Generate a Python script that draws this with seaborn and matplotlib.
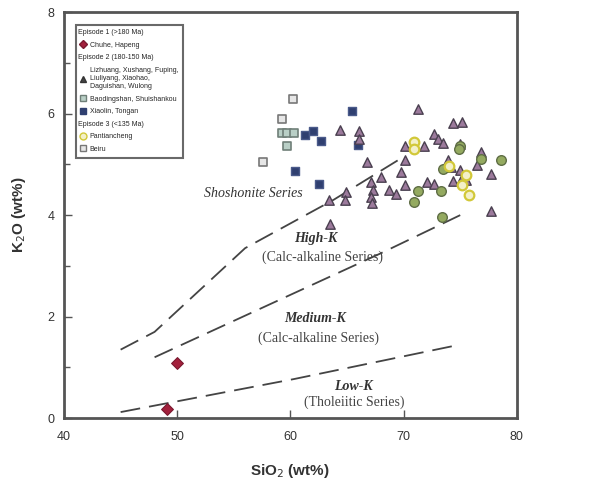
import numpy as np
import pandas as pd
import matplotlib
matplotlib.use("Agg")
import matplotlib.pyplot as plt
from matplotlib.lines import Line2D
from matplotlib.ticker import MultipleLocator
import seaborn as sns

sns.set_style("ticks")
plt.rcParams['font.family'] = ['Liberation Sans', 'DejaVu Sans']

# Episode 1 (>180 Ma)
ep1_sio2 = [50.0, 49.1]
ep1_k2o = [1.08, 0.18]

# Episode 2 triangles
tri_sio2 = [71.3, 74.4, 75.2, 64.4, 66.1, 66.1, 66.8, 70.1, 71.8, 72.7, 73.0, 73.5,
            70.1, 69.8, 70.1, 68.0, 67.1, 67.3, 67.1, 67.2, 64.9, 64.8, 63.4, 63.5,
            68.7, 69.3, 72.1, 72.7, 73.9, 74.4, 75.0, 75.2, 75.5, 76.5, 76.8, 77.7,
            77.7, 75.0, 74.2]
tri_k2o = [6.10, 5.81, 5.83, 5.67, 5.65, 5.50, 5.05, 5.37, 5.36, 5.59, 5.50, 5.42,
           5.09, 4.85, 4.59, 4.75, 4.66, 4.50, 4.36, 4.23, 4.46, 4.29, 4.29, 3.83,
           4.49, 4.42, 4.66, 4.62, 5.08, 4.68, 4.88, 4.74, 4.70, 4.98, 5.24, 4.82,
           4.09, 5.41, 4.95]

# Episode 2 squares
grey_sq_sio2 = [59.3, 59.7, 60.3, 59.7]
grey_sq_k2o = [5.61, 5.61, 5.61, 5.37]
dark_sq_sio2 = [65.4, 61.3, 62.0, 62.7, 60.4, 62.5, 66.0]
dark_sq_k2o = [6.06, 5.57, 5.66, 5.47, 4.87, 4.62, 5.39]

# Episode 3
green_sio2 = [70.9, 71.3, 73.3, 73.4, 75.0, 76.8, 78.6, 73.9, 73.5, 74.9]
green_k2o = [4.26, 4.47, 4.47, 3.96, 5.37, 5.11, 5.09, 4.95, 4.90, 5.30]
yellow_sio2 = [70.9, 70.9, 74.0, 75.2, 75.8, 75.5]
yellow_k2o = [5.44, 5.30, 4.96, 4.59, 4.39, 4.80]
open_sq_sio2 = [60.2, 59.3, 57.6]
open_sq_k2o = [6.28, 5.89, 5.04]

# series boundaries
shosh_x = [45.0, 48.0, 56.0, 63.8, 70.0]
shosh_y = [1.35, 1.70, 3.35, 4.30, 5.15]
highk_x = [48.0, 68.0, 75.0]
highk_y = [1.20, 3.25, 4.00]
lowk_x = [45.0, 60.3, 75.0]
lowk_y = [0.12, 0.77, 1.45]

fig = plt.figure(figsize=(5.95, 4.84), dpi=100)
ax = fig.add_axes([0.1076, 0.136, 0.761, 0.839])

for bx, by in [(shosh_x, shosh_y), (highk_x, highk_y), (lowk_x, lowk_y)]:
    ax.plot(bx, by, color='#444444', lw=1.3, dashes=(11, 5), zorder=1)

sty = dict(ax=ax, legend=False, zorder=3)
sns.scatterplot(x=ep1_sio2, y=ep1_k2o, marker='D', s=36, color='#a3203c',
                edgecolor='#7a1a30', linewidth=0.8, **sty)
sns.scatterplot(x=open_sq_sio2, y=open_sq_k2o, marker='s', s=40, color='#e6e6e6',
                edgecolor='#777777', linewidth=1.2, **sty)
sns.scatterplot(x=grey_sq_sio2, y=grey_sq_k2o, marker='s', s=40, color='#b9cfc6',
                edgecolor='#6f7f78', linewidth=1.2, **sty)
sns.scatterplot(x=dark_sq_sio2, y=dark_sq_k2o, marker='s', s=40, color='#2f3f70',
                edgecolor='#4a5a8a', linewidth=1.0, **sty)
sns.scatterplot(x=tri_sio2, y=tri_k2o, marker='^', s=46, color='#9c7a9c',
                edgecolor='#4a4050', linewidth=1.0, **sty)
sns.scatterplot(x=green_sio2, y=green_k2o, marker='o', s=48, color='#94aa60',
                edgecolor='#5f6e45', linewidth=1.0, **sty)
sns.scatterplot(x=yellow_sio2, y=yellow_k2o, marker='o', s=48, color='#f3f0c8',
                edgecolor='#d2c838', linewidth=1.6, **sty)

ax.set_xlim(40, 80)
ax.set_ylim(0, 8)
ax.xaxis.set_major_locator(MultipleLocator(10))
ax.yaxis.set_major_locator(MultipleLocator(2))
ax.yaxis.set_minor_locator(MultipleLocator(1))
ax.tick_params(direction='in', length=6, width=1, colors='#555555', labelsize=9,
               labelcolor='#333333')
ax.tick_params(axis='x', pad=9)
ax.tick_params(axis='y', pad=7)
ax.tick_params(which='minor', direction='in', length=4, width=1, colors='#555555')
for sp in ax.spines.values():
    sp.set_linewidth(2)
    sp.set_color('#555555')
ax.set_xlabel('SiO$_2$ (wt%)', fontsize=11, fontweight='bold', color='#333333', labelpad=14)
ax.set_ylabel('K$_2$O (wt%)', fontsize=11, fontweight='bold', color='#333333', labelpad=14)

serif = ['Liberation Serif', 'DejaVu Serif']
fs = 10
ax.text(56.7, 4.42, 'Shoshonite Series', family=serif, style='italic', fontsize=fs,
        ha='center', va='center', color='#333333')
ax.text(62.2, 3.54, 'High-K', family=serif, style='italic', weight='bold', fontsize=fs,
        ha='center', va='center', color='#333333')
ax.text(62.8, 3.17, '(Calc-alkaline Series)', family=serif, fontsize=fs,
        ha='center', va='center', color='#444444')
ax.text(62.2, 1.97, 'Medium-K', family=serif, style='italic', weight='bold', fontsize=fs,
        ha='center', va='center', color='#333333')
ax.text(62.5, 1.57, '(Calc-alkaline Series)', family=serif, fontsize=fs,
        ha='center', va='center', color='#444444')
ax.text(65.6, 0.62, 'Low-K', family=serif, style='italic', weight='bold', fontsize=fs,
        ha='center', va='center', color='#333333')
ax.text(65.6, 0.32, '(Tholeiitic Series)', family=serif, fontsize=fs,
        ha='center', va='center', color='#444444')

blank = Line2D([], [], linestyle='none')
handles = [
    blank,
    Line2D([], [], marker='D', ls='none', ms=4, mfc='#a3203c', mec='#7a1a30'),
    blank,
    Line2D([], [], marker='^', ls='none', ms=5, mfc='#444444', mec='#333333'),
    Line2D([], [], marker='s', ls='none', ms=5, mfc='#b9cfc6', mec='#6f7f78'),
    Line2D([], [], marker='s', ls='none', ms=5, mfc='#2f3f70', mec='#2f3f70'),
    blank,
    Line2D([], [], marker='o', ls='none', ms=5, mfc='#f3f0c8', mec='#d2c838'),
    Line2D([], [], marker='s', ls='none', ms=5, mfc='#e6e6e6', mec='#777777'),
]
labels = [
    'Episode 1 (>180 Ma)',
    'Chuhe, Hapeng',
    'Episode 2 (180-150 Ma)',
    'Lizhuang, Xushang, Fuping,\nLiuliyang, Xiaohao,\nDaguishan, Wulong',
    'Baodingshan, Shuishankou',
    'Xiaolin, Tongan',
    'Episode 3 (<135 Ma)',
    'Pantiancheng',
    'Beiru',
]
leg = ax.legend(handles, labels, loc='upper left', bbox_to_anchor=(0.018, 0.978),
                fontsize=5, frameon=True, fancybox=False, edgecolor='#444444',
                handlelength=0.8, handletextpad=0.5, borderpad=0.7, labelspacing=0.8)
leg.get_frame().set_linewidth(1.5)
for i in (0, 2, 6):
    leg.get_texts()[i].set_position((-12, 0))

fig.savefig('out.png', dpi=100)
